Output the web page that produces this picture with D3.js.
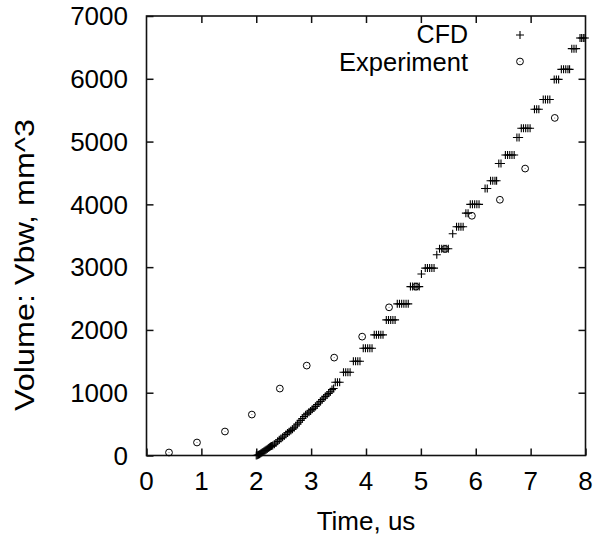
<!DOCTYPE html>
<html>
<head>
<meta charset="utf-8">
<script src="https://cdn.jsdelivr.net/npm/d3@7"></script>
<style>
  body { margin: 0; background: #fff; }
  text { font-family: "Liberation Sans", Arial, sans-serif; fill: #000; }
</style>
</head>
<body>
<div id="container"></div>
<script>
// tick labels
let xTicks = [0, 1, 2, 3, 4, 5, 6, 7, 8];
let yTicks = [0, 1000, 2000, 3000, 4000, 5000, 6000, 7000];

// experiment series
let expTime = [0.41, 0.92, 1.43, 1.92, 2.43, 2.92, 3.42, 3.93, 4.42, 4.91, 5.44, 5.93, 6.44, 6.90, 7.44];
let expVolume = [48, 207, 382, 652, 1066, 1432, 1559, 1893, 2360, 2690, 3290, 3818, 4073, 4570, 5377];

// cfd series
let cfdTime = [
  2.00, 2.02, 2.04, 2.06, 2.08, 2.10, 2.12, 2.14, 2.16, 2.18, 2.20, 2.22, 2.24, 2.26, 2.28, 2.30,
  2.33, 2.36, 2.39, 2.42, 2.45, 2.48, 2.51, 2.54, 2.57, 2.60, 2.63, 2.66, 2.69, 2.72, 2.75, 2.78,
  2.81, 2.84, 2.87, 2.90, 2.93, 2.96, 2.99, 3.02, 3.05, 3.08, 3.11, 3.14, 3.17, 3.20, 3.23, 3.26,
  3.29, 3.32, 3.35, 3.38, 3.41,
  3.44, 3.48, 3.52,
  3.59, 3.63, 3.67, 3.71,
  3.77, 3.81, 3.85, 3.89,
  3.95, 3.99, 4.03, 4.07, 4.11,
  4.15, 4.19, 4.23, 4.27, 4.31,
  4.37, 4.41, 4.45, 4.49, 4.53,
  4.57, 4.61, 4.65, 4.69, 4.73, 4.77,
  4.81, 4.85, 4.89, 4.93, 4.97,
  5.01,
  5.08, 5.12, 5.16, 5.20, 5.24,
  5.29,
  5.34, 5.38, 5.42, 5.46, 5.50,
  5.58,
  5.65, 5.69, 5.73, 5.77,
  5.82, 5.86,
  5.90, 5.94, 5.98, 6.02, 6.06,
  6.17, 6.21,
  6.27, 6.31, 6.35, 6.38,
  6.42, 6.46,
  6.54, 6.58, 6.62, 6.66, 6.70,
  6.75, 6.79,
  6.83, 6.87, 6.91, 6.95, 6.99,
  7.07, 7.11, 7.15,
  7.23, 7.27, 7.31, 7.35,
  7.43, 7.47, 7.51,
  7.56, 7.60, 7.64, 7.68, 7.71,
  7.75, 7.79, 7.83,
  7.90, 7.93, 7.96, 7.99
];
let cfdVolume = [
  0, 5, 12, 20, 30, 42, 55, 67, 80, 92, 105, 118, 130, 142, 150, 160,
  180, 200, 225, 250, 270, 290, 310, 335, 360, 380, 400, 420, 440, 470, 500, 530,
  560, 590, 620, 650, 665, 690, 710, 735, 755, 780, 810, 835, 860, 890, 915, 940,
  965, 990, 1015, 1050, 1066,
  1166, 1166, 1166,
  1325, 1325, 1325, 1325,
  1500, 1500, 1500, 1500,
  1707, 1707, 1707, 1707, 1707,
  1922, 1922, 1922, 1922, 1922,
  2160, 2160, 2160, 2160, 2160,
  2415, 2415, 2415, 2415, 2415, 2415,
  2690, 2690, 2690, 2690, 2690,
  2890,
  2985, 2985, 2985, 2985, 2985,
  3198,
  3293, 3293, 3293, 3293, 3293,
  3532,
  3643, 3643, 3643, 3643,
  3860, 3860,
  4000, 4000, 4000, 4000, 4000,
  4253, 4253,
  4375, 4375, 4375, 4375,
  4650, 4650,
  4787, 4787, 4787, 4787, 4787,
  5064, 5064,
  5213, 5213, 5213, 5213, 5213,
  5515, 5515, 5515,
  5670, 5670, 5670, 5670,
  5990, 5990, 5990,
  6150, 6150, 6150, 6150, 6150,
  6480, 6480, 6480,
  6650, 6650, 6650, 6650
];

let width = 596;
let height = 537;
let plot = {left: 146.5, right: 585.5, top: 16, bottom: 455.5};

const svg = d3
  .select('#container')
  .append('svg')
  .attr('width', width)
  .attr('height', height);

let xScale = d3.scaleLinear().domain([0, 8]).range([plot.left, plot.right]);
let yScale = d3.scaleLinear().domain([0, 7000]).range([plot.bottom, plot.top]);

const tickLen = 7;
const frameColor = '#111';

// axes, ticks pointing inward on all four sides
svg.append('g')
  .attr('transform', `translate(0,${plot.bottom})`)
  .call(d3.axisBottom(xScale).tickValues(xTicks).tickSize(-tickLen).tickFormat(''))
  .call(g => g.select('.domain').remove());
svg.append('g')
  .attr('transform', `translate(0,${plot.top})`)
  .call(d3.axisTop(xScale).tickValues(xTicks.slice(1, -1)).tickSize(-tickLen).tickFormat(''))
  .call(g => g.select('.domain').remove());
svg.append('g')
  .attr('transform', `translate(${plot.left},0)`)
  .call(d3.axisLeft(yScale).tickValues(yTicks).tickSize(-tickLen).tickFormat(''))
  .call(g => g.select('.domain').remove());
svg.append('g')
  .attr('transform', `translate(${plot.right},0)`)
  .call(d3.axisRight(yScale).tickValues(yTicks.slice(1, -1)).tickSize(-tickLen).tickFormat(''))
  .call(g => g.select('.domain').remove());

svg.selectAll('.tick line').attr('stroke', frameColor).attr('stroke-width', 1.5);

// frame
svg.append('rect')
  .attr('x', plot.left)
  .attr('y', plot.top)
  .attr('width', plot.right - plot.left)
  .attr('height', plot.bottom - plot.top)
  .attr('fill', 'none')
  .attr('stroke', frameColor)
  .attr('stroke-width', 1.6);

// tick labels
svg.selectAll('.xlab')
  .data(xTicks)
  .enter()
  .append('text')
  .attr('x', d => xScale(d))
  .attr('y', 490)
  .attr('text-anchor', 'middle')
  .attr('font-size', 26)
  .text(d => d);

svg.selectAll('.ylab')
  .data(yTicks)
  .enter()
  .append('text')
  .attr('x', 128)
  .attr('y', d => yScale(d) + 9.3)
  .attr('text-anchor', 'end')
  .attr('font-size', 26)
  .text(d => d);

// axis titles
svg.append('text')
  .attr('x', (plot.left + plot.right) / 2)
  .attr('y', 530)
  .attr('text-anchor', 'middle')
  .attr('font-size', 26)
  .text('Time, us');

// y title is drawn longer in the reference
svg.append('text')
  .attr('transform', 'translate(34,265) rotate(-90)')
  .attr('text-anchor', 'middle')
  .attr('font-size', 28)
  .attr('textLength', 292)
  .attr('lengthAdjust', 'spacingAndGlyphs')
  .text('Volume: Vbw, mm^3');

// markers
const plusSize = 4;
function plus(sel, cx, cy) {
  sel.append('path')
    .attr('d', `M${cx - plusSize},${cy}H${cx + plusSize}M${cx},${cy - plusSize}V${cy + plusSize}`)
    .attr('stroke', '#000')
    .attr('stroke-width', 1.1)
    .attr('fill', 'none');
}
function ring(sel, cx, cy) {
  sel.append('circle')
    .attr('cx', cx)
    .attr('cy', cy)
    .attr('r', 3.4)
    .attr('fill', 'none')
    .attr('stroke', '#000')
    .attr('stroke-width', 1);
  sel.append('circle')
    .attr('cx', cx)
    .attr('cy', cy)
    .attr('r', 0.5)
    .attr('fill', '#000')
    .attr('opacity', 0.6);
}

let cfdLayer = svg.append('g');
cfdTime.forEach((t, i) => plus(cfdLayer, xScale(t), yScale(cfdVolume[i])));

let expLayer = svg.append('g');
expTime.forEach((t, i) => ring(expLayer, xScale(t), yScale(expVolume[i])));

// legend
svg.append('text')
  .attr('x', 468)
  .attr('y', 43)
  .attr('text-anchor', 'end')
  .attr('font-size', 25)
  .text('CFD');
plus(svg, 520, 35);

svg.append('text')
  .attr('x', 468)
  .attr('y', 70.5)
  .attr('text-anchor', 'end')
  .attr('font-size', 25.5)
  .text('Experiment');
ring(svg, 520, 61.5);
</script>
</body>
</html>
